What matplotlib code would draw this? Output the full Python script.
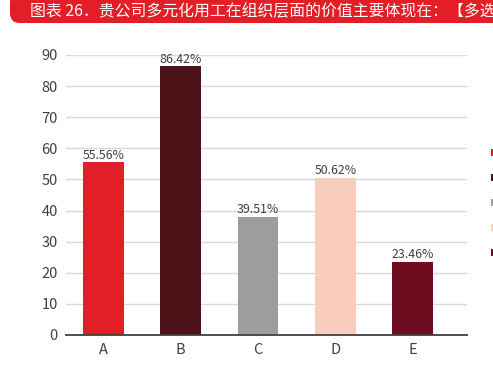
import matplotlib
matplotlib.use("Agg")
import matplotlib.pyplot as plt
from matplotlib.patches import Rectangle, FancyBboxPatch

plt.rcParams["font.family"] = ["Noto Sans CJK SC", "DejaVu Sans"]

TITLE = "图表 26．贵公司多元化用工在组织层面的价值主要体现在：【多选】"
CATEGORIES = ["A", "B", "C", "D", "E"]
VALUES = [55.56, 86.42, 38.0, 50.62, 23.46]
VALUE_LABELS = ["55.56%", "86.42%", "39.51%", "50.62%", "23.46%"]
COLORS = ["#E41E26", "#4B1218", "#9D9D9B", "#F9CDBD", "#6D0C1E"]
YTICKS = [0, 10, 20, 30, 40, 50, 60, 70, 80, 90]

W, H = 493, 380
fig = plt.figure(figsize=(W / 100, H / 100), dpi=100)

# red title banner across the top
banner = FancyBboxPatch((10 / W, 1 - 23 / H), 500 / W, 30 / H,
                        boxstyle="round,pad=0,rounding_size=0.02",
                        transform=fig.transFigure, facecolor="#E41E26",
                        edgecolor="none", mutation_aspect=W / H)
fig.patches.append(banner)
fig.text(29.5 / W, 1 - 11.5 / H, TITLE, color="white", fontsize=11.45,
         va="center", ha="left")

ax = fig.add_axes([66 / W, 1 - 335 / H, (467 - 66) / W, (335 - 55) / H])
x = range(len(CATEGORIES))
ax.bar(x, VALUES, width=0.53, color=COLORS, zorder=3)
for xi, v, lab in zip(x, VALUES, VALUE_LABELS):
    ax.text(xi, v + 0.2, lab, ha="center", va="bottom", fontsize=8.9,
            color="#404040", zorder=4)

ax.set_xlim(-0.485, 4.705)
ax.set_ylim(0, 90)
ax.set_yticks(YTICKS)
ax.set_xticks(list(x))
ax.set_xticklabels(CATEGORIES)
ax.tick_params(axis="both", length=0, colors="#404040", labelsize=10.5)
ax.tick_params(axis="y", pad=6)
ax.tick_params(axis="x", pad=6)
ax.grid(axis="y", color="#D9D9D9", linewidth=1, zorder=0)
for s in ("top", "right", "left"):
    ax.spines[s].set_visible(False)
ax.spines["bottom"].set_color("#404040")
ax.spines["bottom"].set_linewidth(1.3)
ax.spines["bottom"].set_zorder(5)

# legend swatches cut off at the right edge
for i, c in enumerate(COLORS):
    yc = 152.7 + 25 * i
    fig.patches.append(Rectangle((491 / W, 1 - (yc + 3.5) / H), 8 / W, 7 / H,
                                 transform=fig.transFigure, facecolor=c,
                                 edgecolor="none"))

fig.savefig("out.png", dpi=100)
